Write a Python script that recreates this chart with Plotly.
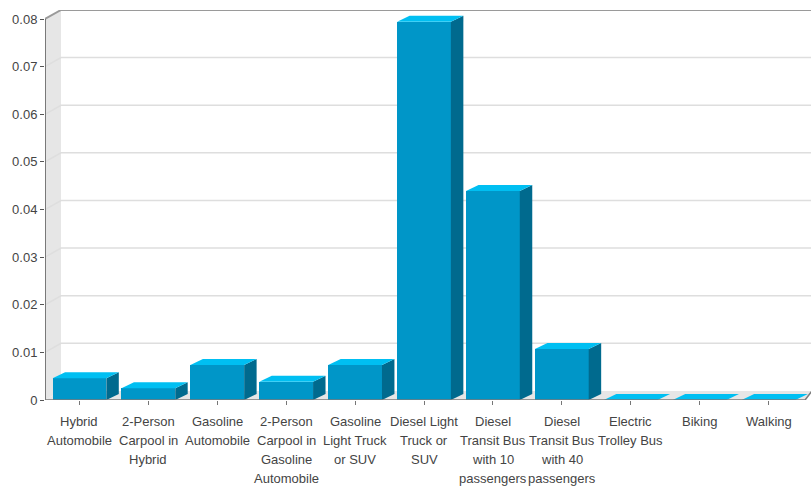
import plotly.graph_objects as go

categories = [
    "Hybrid<br>Automobile",
    "2-Person<br>Carpool in<br>Hybrid",
    "Gasoline<br>Automobile",
    "2-Person<br>Carpool in<br>Gasoline<br>Automobile",
    "Gasoline<br>Light Truck<br>or SUV",
    "Diesel Light<br>Truck or<br>SUV",
    "Diesel<br>Transit Bus<br>with 10<br>passengers",
    "Diesel<br>Transit Bus<br>with 40<br>passengers",
    "Electric<br>Trolley Bus",
    "Biking",
    "Walking",
]
values = [0.00455, 0.00245, 0.00735, 0.00385, 0.00735, 0.0794, 0.0439, 0.0107, 0.0, 0.0, 0.0]
y_ticks = [0, 0.01, 0.02, 0.03, 0.04, 0.05, 0.06, 0.07, 0.08]
y_tick_text = ["0", "0.01", "0.02", "0.03", "0.04", "0.05", "0.06", "0.07", "0.08"]

# styling / geometry (not data)
FRONT = "rgb(0,150,200)"
TOP = "rgb(0,191,242)"
SIDE = "rgb(0,106,142)"
BAR_W = 0.78
BDX, BDY = 0.181, 0.00126      # bar depth offset
WDX, WDY = 0.232, 0.00189      # wall depth offset
XMIN, XMAX = -0.5, 10.616
YMAX = 0.08189
FONT = "Liberation Sans, Arial, sans-serif"

n = len(values)
xs = list(range(n))

fig = go.Figure()

# front faces
fig.add_trace(go.Bar(x=xs, y=values, width=BAR_W, marker=dict(color=FRONT, line=dict(width=0)),
                     hoverinfo="skip", showlegend=False))

# top and side faces
for x, v in zip(xs, values):
    x0, x1 = x - BAR_W / 2, x + BAR_W / 2
    if v > 0:
        fig.add_trace(go.Scatter(
            x=[x1, x1 + BDX, x1 + BDX, x1, x1],
            y=[0, BDY, v + BDY, v, 0],
            fill="toself", fillcolor=SIDE, mode="lines", line=dict(width=0),
            hoverinfo="skip", showlegend=False))
    fig.add_trace(go.Scatter(
        x=[x0, x1, x1 + BDX, x0 + BDX, x0],
        y=[v, v, v + BDY, v + BDY, v],
        fill="toself", fillcolor=TOP, mode="lines", line=dict(width=0),
        hoverinfo="skip", showlegend=False))

shapes = []
# floor
shapes.append(dict(type="path", layer="below", xref="x", yref="y",
                   path=f"M {XMIN},0 L {n - 0.5 + 0.03},0 L {n - 0.5 + 0.13},{WDY} L {XMIN + WDX},{WDY} Z",
                   fillcolor="#e6e6e6", line=dict(width=0)))
# left wall
shapes.append(dict(type="path", layer="below", xref="x", yref="y",
                   path=f"M {XMIN},0 L {XMIN + WDX},{WDY} L {XMIN + WDX},{y_ticks[-1] + WDY} L {XMIN},{y_ticks[-1]} Z",
                   fillcolor="#e6e6e6", line=dict(width=0)))
# gridlines
for v in y_ticks[1:]:
    top = v == y_ticks[-1]
    shapes.append(dict(type="path", layer="below", xref="x", yref="y",
                       path=f"M {XMIN},{v} L {XMIN + WDX},{v + WDY} L {XMAX + 0.2},{v + WDY}",
                       line=dict(color="#9a9a9a" if top else "#dedede", width=2 if top else 1.5)))
# y axis line
shapes.append(dict(type="line", layer="above", xref="x", yref="y",
                   x0=XMIN, x1=XMIN, y0=0, y1=y_ticks[-1], line=dict(color="#555555", width=1.5)))
# x axis line with slanted end
shapes.append(dict(type="path", layer="above", xref="x", yref="y",
                   path=f"M {XMIN},0 L {n - 0.5 + 0.03},0 L {n - 0.5 + 0.13},{WDY}",
                   line=dict(color="#7a7a7a", width=1.5)))

annotations = []
for x, lab in zip(xs, categories):
    for j, line in enumerate(lab.split("<br>")):
        annotations.append(dict(x=x, y=0, xref="x", yref="y", text=line, showarrow=False,
                                xanchor="center", yanchor="middle", yshift=-(21 + 19 * j),
                                font=dict(family=FONT, size=13, color="#444444")))

fig.update_layout(
    width=811, height=488,
    margin=dict(l=45, r=0, t=10, b=88),
    paper_bgcolor="white", plot_bgcolor="white",
    bargap=0,
    shapes=shapes, annotations=annotations,
    xaxis=dict(range=[XMIN, XMAX], tickvals=xs, showticklabels=False, ticks="outside",
               ticklen=4, tickcolor="#777777", showgrid=False, zeroline=False, showline=False,
               fixedrange=True),
    yaxis=dict(range=[0, YMAX], tickvals=y_ticks, ticktext=y_tick_text, ticks="outside",
               ticklen=4, tickcolor="#555555", showgrid=False, zeroline=False, showline=False,
               tickfont=dict(family=FONT, size=13, color="#444444"), fixedrange=True),
    showlegend=False,
)

fig.write_html("out.html")
